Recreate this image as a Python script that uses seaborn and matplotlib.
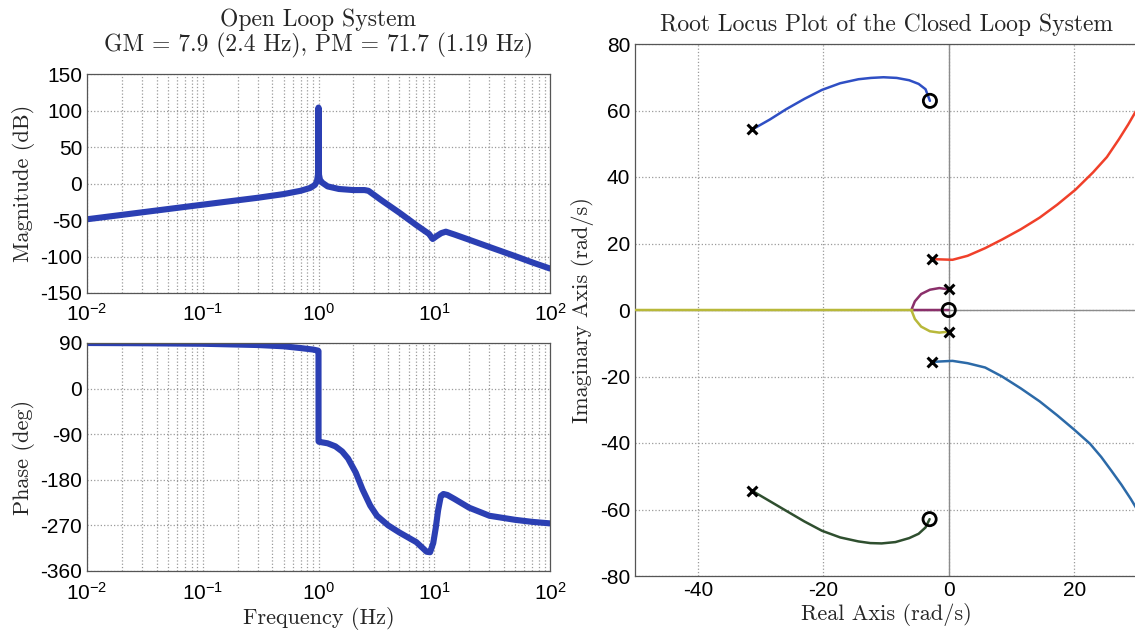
import matplotlib
matplotlib.use("Agg")
import matplotlib.pyplot as plt
import seaborn as sns
import numpy as np
import pandas as pd
from matplotlib.ticker import LogLocator, FixedLocator

# ---------------- data ----------------
mag_freq = [0.01, 0.02, 0.05, 0.1, 0.2, 0.3, 0.5, 0.7, 0.85, 0.93, 0.97, 0.99, 0.997,
            1.0, 1.003, 1.01, 1.03, 1.08, 1.2, 1.5, 2.0, 2.5, 2.7, 3.5, 5, 7, 9, 9.7,
            10.5, 11.5, 12.6, 15, 20, 30, 50, 70, 100]
mag_db = [-49, -43, -35, -29, -23, -19.5, -14.5, -10, -6, -2, 3, 12, 40,
          104, 40, 12, 5, 1, -4, -7.5, -9, -9, -10, -23, -40, -57, -69, -76,
          -72, -68, -66, -70, -77, -87, -99.5, -108, -116.5]

ph_freq = [0.01, 0.03, 0.1, 0.3, 0.5, 0.7, 0.9, 0.99, 1.0, 1.001, 1.01, 1.2, 1.4, 1.6,
           1.8, 2.1, 2.4, 2.8, 3.2, 4, 5, 7, 8.6, 9.2, 9.8, 10.3, 10.8, 11.4, 12, 13,
           15, 20, 30, 50, 70, 100]
ph_deg = [90, 89.5, 88.5, 86, 83.5, 80, 77, 75, 74, -104, -105, -108, -114, -124,
          -138, -166, -199, -231, -251, -270, -284, -303, -322, -323, -305, -275,
          -240, -212, -208, -210, -218, -235, -251, -259, -263, -266]

br1_re = [-31.3, -28.5, -25.9, -23.0, -20.2, -17.3, -14.4, -12.4, -10.4, -8.3, -6.3, -4.8, -3.7, -3.0]
br1_im = [54.3, 57.3, 60.4, 63.5, 66.2, 68.2, 69.4, 69.8, 70.0, 69.8, 69.1, 68.0, 66.4, 62.9]

br2_re = [-2.6, 0.6, 3.0, 5.8, 8.5, 11.5, 14.5, 17.3, 20.2, 23.0, 25.2, 27.1, 28.6, 30.5]
br2_im = [15.3, 15.1, 16.3, 18.6, 21.2, 24.3, 27.8, 31.7, 36.2, 41.4, 46.0, 51.3, 55.8, 62.0]

br3_re = [-2.7, 0.6, 3.0, 5.8, 8.5, 11.5, 14.5, 17.3, 20.0, 22.5, 24.3, 25.9, 27.5, 29.0, 30.5]
br3_im = [-15.6, -15.3, -16.0, -17.3, -20.0, -23.6, -27.5, -31.7, -36.0, -40.2, -44.2, -48.3, -52.5, -56.8, -61.5]

br4_re = [-31.4, -28.6, -25.9, -23.0, -20.2, -17.3, -14.4, -12.5, -10.7, -8.5, -6.3, -4.8, -3.7, -3.05]
br4_im = [-54.3, -57.4, -60.4, -63.6, -66.4, -68.4, -69.6, -70.1, -70.2, -69.8, -68.6, -67.3, -65.4, -62.9]

br5_re = [0.0, -1.5, -3.0, -4.4, -5.4, -5.9, -5.8, -4.0, -2.0, 0.0]
br5_im = [6.2, 6.6, 6.1, 4.8, 2.6, 0.3, 0.0, 0.0, 0.0, 0.0]

br6_re = [0.0, -1.5, -3.0, -4.4, -5.4, -5.9, -5.8, -20.0, -35.0, -50.0]
br6_im = [-6.5, -6.8, -6.4, -5.0, -2.7, -0.3, 0.0, 0.0, 0.0, 0.0]

branch_colors = ["#2f4fc4", "#f0402a", "#2c6aa8", "#2f4f2f", "#8a2f6a", "#b8b83a"]

pole_re = [-31.3, -31.4, -2.7, -2.7, 0.0, 0.0]
pole_im = [54.3, -54.3, 15.4, -15.6, 6.2, -6.5]
zero_re = [-3.0, -3.05, 0.0]
zero_im = [62.9, -62.9, 0.0]

mag_ticks = [-150, -100, -50, 0, 50, 100, 150]
ph_ticks = [-360, -270, -180, -90, 0, 90]
rl_xticks = [-40, -20, 0, 20]
rl_yticks = [-80, -60, -40, -20, 0, 20, 40, 60, 80]

# ---------------- style ----------------
sns.set_style("white")
plt.rcParams["font.family"] = ["Liberation Sans", "DejaVu Sans"]
plt.rcParams["mathtext.fontset"] = "custom"
plt.rcParams["mathtext.rm"] = "Liberation Sans"
plt.rcParams["mathtext.it"] = "Liberation Sans:italic"
plt.rcParams["mathtext.bf"] = "Liberation Sans:bold"
plt.rcParams["axes.unicode_minus"] = False

SERIF = ["cmr10", "DejaVu Serif"]
TICK_FS = 15
LAB_FS = 16
TITLE_FS = 17
LINE_BLUE = "#2b3fb3"
GRID_KW = dict(color="#9a9a9a", linestyle=":", linewidth=0.9)

W, H = 1135, 637
fig = plt.figure(figsize=(W / 100, H / 100), dpi=100)

def ax_px(left, top, right, bottom):
    return fig.add_axes([left / W, 1 - bottom / H, (right - left) / W, (bottom - top) / H])

ax_mag = ax_px(87, 74, 550, 293)
ax_ph = ax_px(87, 343, 550, 571)
ax_rl = ax_px(635, 44, 1137, 576)

def style_axes(ax, xpad=3.5):
    for s in ax.spines.values():
        s.set_color("#555555")
        s.set_linewidth(0.9)
    ax.tick_params(which="both", direction="in", labelsize=TICK_FS, colors="#333333",
                   labelcolor="black")
    ax.tick_params(which="major", length=4)
    ax.tick_params(which="minor", length=2)
    ax.tick_params(axis="x", which="both", pad=xpad)

# ---------------- Bode magnitude ----------------
df_mag = pd.DataFrame({"f": mag_freq, "db": mag_db})
sns.lineplot(data=df_mag, x="f", y="db", ax=ax_mag, sort=False, estimator=None,
             color=LINE_BLUE, linewidth=4.4)
ax_mag.set_xscale("log")
ax_mag.set_xlim(1e-2, 1e2)
ax_mag.set_ylim(-150, 150)
ax_mag.yaxis.set_major_locator(FixedLocator(mag_ticks))
ax_mag.xaxis.set_major_locator(LogLocator(base=10, numticks=10))
ax_mag.xaxis.set_minor_locator(LogLocator(base=10, subs=np.arange(2, 10), numticks=20))
ax_mag.grid(True, which="both", axis="x", **GRID_KW)
ax_mag.grid(True, which="major", axis="y", **GRID_KW)
ax_mag.set_xlabel("")
ax_mag.set_ylabel("Magnitude (dB)", fontsize=LAB_FS, family=SERIF, labelpad=4)
ax_mag.set_title("Open Loop System\nGM = 7.9 (2.4 Hz), PM = 71.7 (1.19 Hz)",
                 fontsize=TITLE_FS, family=SERIF, pad=16, linespacing=1.1)
style_axes(ax_mag, xpad=7)

# ---------------- Bode phase ----------------
df_ph = pd.DataFrame({"f": ph_freq, "deg": ph_deg})
sns.lineplot(data=df_ph, x="f", y="deg", ax=ax_ph, sort=False, estimator=None,
             color=LINE_BLUE, linewidth=4.4)
ax_ph.set_xscale("log")
ax_ph.set_xlim(1e-2, 1e2)
ax_ph.set_ylim(-360, 90)
ax_ph.yaxis.set_major_locator(FixedLocator(ph_ticks))
ax_ph.xaxis.set_major_locator(LogLocator(base=10, numticks=10))
ax_ph.xaxis.set_minor_locator(LogLocator(base=10, subs=np.arange(2, 10), numticks=20))
ax_ph.grid(True, which="both", axis="x", **GRID_KW)
ax_ph.grid(True, which="major", axis="y", **GRID_KW)
ax_ph.set_xlabel("Frequency (Hz)", fontsize=LAB_FS, family=SERIF, labelpad=2)
ax_ph.set_ylabel("Phase (deg)", fontsize=LAB_FS, family=SERIF, labelpad=4)
style_axes(ax_ph, xpad=8)

# ---------------- Root locus ----------------
branches = [(br1_re, br1_im), (br2_re, br2_im), (br3_re, br3_im),
            (br4_re, br4_im), (br5_re, br5_im), (br6_re, br6_im)]
ax_rl.axhline(0, color="#8c8c8c", linewidth=1.0, zorder=1)
ax_rl.axvline(0, color="#8c8c8c", linewidth=1.0, zorder=1)
for (re, im), c in zip(branches, branch_colors):
    dfb = pd.DataFrame({"re": re, "im": im})
    sns.lineplot(data=dfb, x="re", y="im", ax=ax_rl, sort=False, estimator=None,
                 color=c, linewidth=1.8, zorder=3)
sns.scatterplot(x=pole_re, y=pole_im, ax=ax_rl, marker="x", s=50, color="black",
                linewidth=2.2, zorder=5)
sns.scatterplot(x=zero_re, y=zero_im, ax=ax_rl, marker="o", s=90, facecolor="none",
                edgecolor="black", linewidth=2.0, zorder=5)
ax_rl.set_xlim(-50, 30)
ax_rl.set_ylim(-80, 80)
ax_rl.xaxis.set_major_locator(FixedLocator(rl_xticks))
ax_rl.yaxis.set_major_locator(FixedLocator(rl_yticks))
ax_rl.grid(True, which="major", **GRID_KW)
ax_rl.set_xlabel("Real Axis (rad/s)", fontsize=LAB_FS, family=SERIF, labelpad=2)
ax_rl.set_ylabel("Imaginary Axis (rad/s)", fontsize=LAB_FS, family=SERIF, labelpad=4)
ax_rl.set_title("Root Locus Plot of the Closed Loop System", fontsize=TITLE_FS,
                family=SERIF, pad=9)
style_axes(ax_rl)

fig.savefig("out.png", dpi=100, facecolor="white")
